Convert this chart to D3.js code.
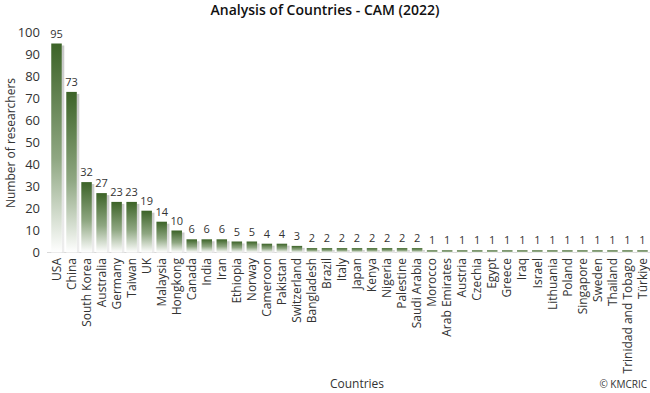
<!DOCTYPE html>
<html><head><meta charset="utf-8">
<script src="https://cdn.jsdelivr.net/npm/d3@7"></script>
<style>body{margin:0;background:#fff;}svg{display:block;}</style>
</head><body>
<svg id="c" width="650" height="393"></svg>
<script>
const countries = ["USA","China","South Korea","Australia","Germany","Taiwan","UK","Malaysia","Hongkong","Canada","India","Iran","Ethiopia","Norway","Cameroon","Pakistan","Switzerland","Bangladesh","Brazil","Italy","Japan","Kenya","Nigeria","Palestine","Saudi Arabia","Morocco","Arab Emirates","Austria","Czechia","Egypt","Greece","Iraq","Israel","Lithuania","Poland","Singapore","Sweden","Thailand","Trinidad and Tobago","Türkiye"];
const researchers = [95,73,32,27,23,23,19,14,10,6,6,6,5,5,4,4,3,2,2,2,2,2,2,2,2,1,1,1,1,1,1,1,1,1,1,1,1,1,1,1];
const yTicks = [0,10,20,30,40,50,60,70,80,90,100];
const title = "Analysis of Countries - CAM (2022)";
const yTitle = "Number of researchers";
const xTitle = "Countries";
const credit = "© KMCRIC";

const font = "'Open Sans', 'Noto Sans', sans-serif";
const svg = d3.select("#c");
const x = d3.scaleBand().domain(countries).range([49, 650]).paddingInner(0.3).paddingOuter(0.15);
const y = d3.scaleLinear().domain([0, 100]).range([252.5, 32.5]);

const defs = svg.append("defs");
const g = defs.append("linearGradient").attr("id","bg").attr("x1",0).attr("y1",0).attr("x2",0).attr("y2",1);
g.append("stop").attr("offset","0%").attr("stop-color","#3c6327");
g.append("stop").attr("offset","55%").attr("stop-color","#8fa782");
g.append("stop").attr("offset","100%").attr("stop-color","#ffffff");
const sg = defs.append("linearGradient").attr("id","sg").attr("x1",0).attr("y1",0).attr("x2",0).attr("y2",1);
sg.append("stop").attr("offset","0%").attr("stop-color","#c8c8c8");
sg.append("stop").attr("offset","100%").attr("stop-color","#eeeeee");

// baseline
svg.append("line").attr("x1",47).attr("x2",650).attr("y1",y(0)).attr("y2",y(0))
  .attr("stroke","#d9d9d9").attr("stroke-width",1);

// y tick labels
svg.append("g").selectAll("text").data(yTicks).join("text")
  .attr("x",40).attr("y",d=>y(d)).attr("dy","0.35em").attr("text-anchor","end")
  .attr("font-family",font).attr("font-size",13).attr("fill","#333").text(d=>d);

// shadows
svg.append("g").selectAll("rect").data(countries).join("rect")
  .attr("x",d=>x(d)+x.bandwidth()).attr("width",2.5)
  .attr("y",(d,i)=>y(researchers[i])+2).attr("height",(d,i)=>Math.max(0,y(0)-y(researchers[i])-2))
  .attr("fill","url(#sg)");

// bars
svg.append("g").selectAll("rect").data(countries).join("rect")
  .attr("x",d=>x(d)).attr("width",x.bandwidth())
  .attr("y",(d,i)=>y(researchers[i])).attr("height",(d,i)=>y(0)-y(researchers[i]))
  .attr("fill","url(#bg)");

// value labels
svg.append("g").selectAll("text").data(countries).join("text")
  .attr("x",d=>x(d)+x.bandwidth()/2).attr("y",(d,i)=>y(researchers[i])-6)
  .attr("text-anchor","middle").attr("font-family",font).attr("font-size",11).attr("fill","#333")
  .text((d,i)=>researchers[i]);

// x labels
svg.append("g").selectAll("text").data(countries).join("text")
  .attr("transform",d=>`translate(${x(d)+x.bandwidth()/2},258) rotate(-90)`)
  .attr("dy","0.35em").attr("text-anchor","end")
  .attr("font-family",font).attr("font-size",12).attr("fill","#333").text(d=>d);

// titles
svg.append("text").attr("x",325).attr("y",15).attr("text-anchor","middle")
  .attr("font-family",font).attr("font-size",14).attr("font-weight",600).attr("fill","#111").text(title);
svg.append("text").attr("transform","translate(11,143) rotate(-90)").attr("text-anchor","middle")
  .attr("dy","0.35em").attr("font-family",font).attr("font-size",12).attr("fill","#333").text(yTitle);
svg.append("text").attr("x",357).attr("y",388).attr("text-anchor","middle")
  .attr("font-family",font).attr("font-size",12).attr("fill","#333").text(xTitle);
svg.append("text").attr("x",647).attr("y",388).attr("text-anchor","end")
  .attr("font-family",font).attr("font-size",10).attr("fill","#333").text(credit);
</script>
</body></html>
